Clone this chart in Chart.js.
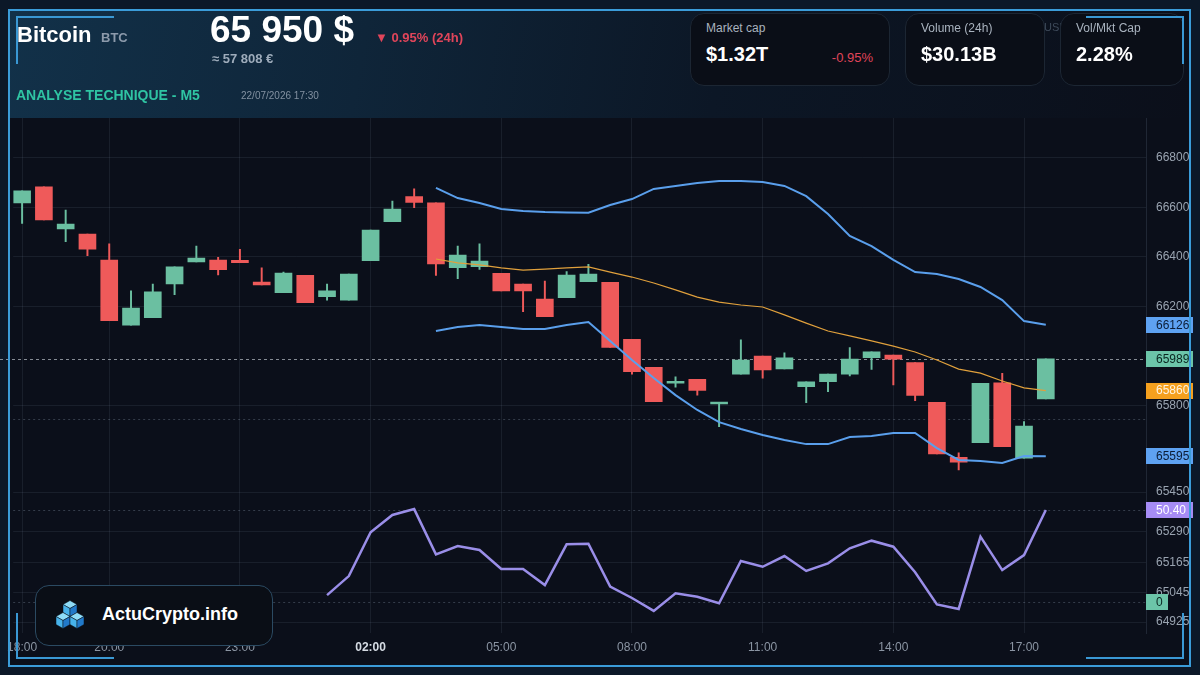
<!DOCTYPE html>
<html>
<head>
<meta charset="utf-8">
<script src="https://cdn.jsdelivr.net/npm/chart.js@4.4.1/dist/chart.umd.min.js"></script>
<style>
  body { margin: 0; background: #0c1727; font-family: "Liberation Sans", Arial, sans-serif; }
  #wrap { position: relative; width: 1200px; height: 675px; background: #0c1828; overflow: hidden; }
  #panel { position: absolute; left: 9px; top: 10px; width: 1181px; height: 656px; background: #0b0f1a; }
  #hdr { position: absolute; left: 9px; top: 10px; width: 1181px; height: 108px;
         background: linear-gradient(100deg, #123149 0%, #0f2539 30%, #0c1726 60%, #0b0f1a 100%); }
  canvas { position: absolute; left: 0; top: 0; }
  #frame { position: absolute; left: 8px; top: 9px; width: 1179px; height: 654px; border: 2px solid #3b9cd9; pointer-events: none; }
  .br { position: absolute; border: 0 solid #3a98d4; pointer-events: none; }
  .t { position: absolute; white-space: nowrap; line-height: 1; }
  .box { position: absolute; top: 13px; height: 73px; border: 1px solid #1c2633; border-radius: 14px;
         background: #0a0e17; box-sizing: border-box; }
  .lbl { position: absolute; left: 15px; top: 8px; font-size: 12px; color: #a9b3bf; line-height: 1; white-space: nowrap; }
  .val { position: absolute; left: 15px; top: 30px; font-size: 20px; font-weight: bold; color: #fff; line-height: 1; white-space: nowrap; }
  #logo { position: absolute; left: 35px; top: 585px; width: 238px; height: 61px; box-sizing: border-box;
          border: 1.5px solid #2b4a62; border-radius: 14px; background: #0a0e16; }
</style>
</head>
<body>
<div id="wrap">
  <div id="panel"></div>
  <div id="hdr"></div>
  <canvas id="c" width="1200" height="675"></canvas>

  <div class="t" style="left:17px;top:24px;font-size:22px;font-weight:bold;color:#fff">Bitcoin</div>
  <div class="t" style="left:101px;top:31px;font-size:13px;font-weight:bold;color:#8c9aab">BTC</div>
  <div class="t" style="left:210px;top:11px;font-size:37px;font-weight:bold;color:#fff">65 950 $</div>
  <div class="t" style="left:375px;top:31px;font-size:13px;font-weight:bold;color:#e0455a">▼ 0.95% (24h)</div>
  <div class="t" style="left:212px;top:52px;font-size:13px;font-weight:bold;color:#9eacbb">≈ 57 808 €</div>
  <div class="t" style="left:16px;top:88px;font-size:14px;font-weight:bold;color:#2fc4a3">ANALYSE TECHNIQUE - M5</div>
  <div class="t" style="left:241px;top:91px;font-size:10px;color:#8391a1">22/07/2026 17:30</div>

  <div class="box" style="left:690px;width:200px">
    <div class="lbl">Market cap</div>
    <div class="val">$1.32T</div>
    <div class="t" style="right:16px;top:37px;font-size:13px;color:#e0455a">-0.95%</div>
  </div>
  <div class="box" style="left:905px;width:140px">
    <div class="lbl">Volume (24h)</div>
    <div class="val">$30.13B</div>
  </div>
  <div class="t" style="left:1044px;top:22px;font-size:11px;color:#3e4a5a">USD</div>
  <div class="box" style="left:1060px;width:124px">
    <div class="lbl">Vol/Mkt Cap</div>
    <div class="val">2.28%</div>
  </div>

  <div id="logo">
    <svg style="position:absolute;left:16px;top:12px" width="36" height="33" viewBox="0 0 36 32">
      <g stroke="#0a0e16" stroke-width="0.5">
        <polygon points="18,2 25,6 18,10 11,6" fill="#8edcf7"/>
        <polygon points="11,6 18,10 18,18 11,14" fill="#47b2ea"/>
        <polygon points="18,10 25,6 25,14 18,18" fill="#2179c9"/>
        <polygon points="11,14 18,18 11,22 4,18" fill="#8edcf7"/>
        <polygon points="4,18 11,22 11,30 4,26" fill="#47b2ea"/>
        <polygon points="11,22 18,18 18,26 11,30" fill="#2179c9"/>
        <polygon points="25,14 32,18 25,22 18,18" fill="#8edcf7"/>
        <polygon points="18,18 25,22 25,30 18,26" fill="#47b2ea"/>
        <polygon points="25,22 32,18 32,26 25,30" fill="#2179c9"/>
      </g>
    </svg>
    <div class="t" style="left:66px;top:19px;font-size:18px;font-weight:bold;color:#fff">ActuCrypto.info</div>
  </div>

  <div id="frame"></div>
  <div class="br" style="left:16px;top:16px;width:96px;height:46px;border-top-width:2px;border-left-width:2px"></div>
  <div class="br" style="left:1086px;top:16px;width:96px;height:46px;border-top-width:2px;border-right-width:2px"></div>
  <div class="br" style="left:16px;top:613px;width:96px;height:44px;border-bottom-width:2px;border-left-width:2px"></div>
  <div class="br" style="left:1086px;top:613px;width:96px;height:44px;border-bottom-width:2px;border-right-width:2px"></div>
</div>

<script>
// 30-minute candles, 18:00 -> 17:30
var times = ["18:00","18:30","19:00","19:30","20:00","20:30","21:00","21:30","22:00","22:30",
  "23:00","23:30","00:00","00:30","01:00","01:30","02:00","02:30","03:00","03:30",
  "04:00","04:30","05:00","05:30","06:00","06:30","07:00","07:30","08:00","08:30",
  "09:00","09:30","10:00","10:30","11:00","11:30","12:00","12:30","13:00","13:30",
  "14:00","14:30","15:00","15:30","16:00","16:30","17:00","17:30"];
var tickIdx = [0, 4, 10, 16, 22, 28, 34, 40, 46];
var yTicks = [66800, 66600, 66400, 66200, 65800, 65450, 65290, 65165, 65045, 64925];

var opens  = [66618,66684,66513,66493,66388,66125,66155,66291,66380,66388,66387,66299,66256,66326,66240,66226,
              66385,66543,66644,66619,66357,66361,66334,66291,66230,66236,66300,66298,66067,65954,65890,65906,
              65806,65927,66000,65948,65876,65896,65927,65993,66004,65973,65813,65591,65650,65892,65587,65827];
var highs  = [66667,66684,66590,66493,66453,66263,66291,66360,66444,66399,66431,66356,66339,66326,66291,66331,
              66509,66626,66675,66619,66444,66453,66334,66291,66303,66341,66370,66298,66067,65954,65916,65906,
              65810,66065,66000,66013,65896,65927,66034,66017,66004,65973,65813,65609,65890,65930,65735,65989];
var lows   = [66536,66550,66462,66405,66143,66125,66155,66248,66380,66328,66377,66287,66256,66215,66226,66226,
              66385,66543,66599,66326,66312,66350,66263,66179,66159,66236,66300,66035,65927,65815,65874,65842,
              65714,65927,65910,65948,65811,65856,65920,65946,65883,65819,65604,65540,65650,65634,65587,65827];
var closes = [66667,66550,66533,66432,66143,66194,66259,66360,66396,66349,66377,66287,66335,66215,66263,66331,
              66509,66594,66621,66372,66408,66384,66263,66263,66159,66327,66331,66035,65937,65815,65895,65861,
              65810,65984,65944,65993,65896,65927,65988,66017,65987,65841,65604,65571,65890,65634,65717,65989];

// Bollinger bands (20) start at candle 19
var bbStart = 19;
var bbUpper = [66679,66638,66618,66594,66586,66582,66580,66579,66610,66634,66675,66687,66699,66707,66707,
               66703,66687,66646,66574,66485,66444,66388,66339,66331,66311,66279,66226,66141,66126];
var bbMid   = [66392,66376,66368,66356,66347,66351,66356,66360,66339,66319,66295,66267,66238,66218,66206,
               66198,66166,66133,66101,66081,66061,66040,66016,65984,65947,65931,65899,65871,65860];
var bbLower = [66101,66117,66125,66117,66109,66109,66125,66137,66061,65984,65911,65842,65782,65733,65705,
               65681,65661,65644,65644,65673,65677,65689,65689,65628,65580,65576,65568,65596,65595];

// oscillator (lower pane) starts at candle 14
var rsiStart = 14;
var rsi = [3.8,14.2,38.2,47.7,50.9,26.1,30.7,28.5,18.1,18.1,9.3,31.6,31.9,8.4,2.2,-4.9,4.8,
           2.9,-0.7,22.5,19.3,25.2,17.0,21.2,29.4,33.6,30.3,16.3,-1.3,-3.8,35.8,17.5,25.7,50.4];
var rsiLevels = [100, 0];

var GREEN = "#6bbfa1", RED = "#ef5a5a";
var last = closes.length - 1;

function pts(arr, start) {
  return arr.map(function (v, k) { return { x: start + k, y: v }; });
}
var candleCol = opens.map(function (o, i) { return closes[i] >= o ? GREEN : RED; });

var tags = [
  { axis: "y", value: bbUpper[bbUpper.length - 1], bg: "#5ea2f2", fg: "#0b1d36" },
  { axis: "y", value: closes[last], bg: "#6cc5a9", fg: "#0a2620" },
  { axis: "y", value: bbMid[bbMid.length - 1], bg: "#f5a01e", fg: "#fff4e2" },
  { axis: "y", value: bbLower[bbLower.length - 1], bg: "#5ea2f2", fg: "#0b1d36" },
  { axis: "osc", value: rsi[rsi.length - 1], bg: "#a68cf5", fg: "#ffffff", text: rsi[rsi.length - 1].toFixed(2) },
  { axis: "osc", value: 0, bg: "#6cc5a9", fg: "#0a2620", w: 22 }
];

var overlay = {
  id: "overlay",
  beforeDatasetsDraw: function (chart) {
    var ctx = chart.ctx, a = chart.chartArea;
    ctx.save();
    ctx.lineWidth = 1;
    ctx.setLineDash([2, 3]);
    ctx.strokeStyle = "rgba(150,165,185,0.3)";
    rsiLevels.concat([rsi[rsi.length - 1]]).forEach(function (v) {
      var y = Math.round(chart.scales.osc.getPixelForValue(v)) + 0.5;
      ctx.beginPath(); ctx.moveTo(a.left, y); ctx.lineTo(a.right, y); ctx.stroke();
    });
    ctx.setLineDash([3, 3]);
    ctx.strokeStyle = "rgba(215,222,230,0.6)";
    var yc = Math.round(chart.scales.y.getPixelForValue(closes[last])) + 0.5;
    ctx.beginPath(); ctx.moveTo(0, yc); ctx.lineTo(a.right, yc); ctx.stroke();
    ctx.restore();
  },
  afterDraw: function (chart) {
    var ctx = chart.ctx, a = chart.chartArea;
    ctx.save();
    ctx.font = "12px 'Liberation Sans', Arial, sans-serif";
    ctx.textBaseline = "middle";
    tags.forEach(function (t) {
      var y = chart.scales[t.axis].getPixelForValue(t.value);
      ctx.fillStyle = t.bg;
      ctx.fillRect(a.right, Math.round(y - 8), t.w || 47, 16);
      ctx.fillStyle = t.fg;
      ctx.fillText(t.text || String(t.value), a.right + 10, y + 0.5);
    });
    ctx.restore();
  }
};

new Chart("c", {
  type: "bar",
  data: {
    datasets: [
      { type: "line", data: pts(bbUpper, bbStart), borderColor: "#5a9fec", borderWidth: 2, pointRadius: 0, order: 0 },
      { type: "line", data: pts(bbLower, bbStart), borderColor: "#5a9fec", borderWidth: 2, pointRadius: 0, order: 0 },
      { type: "line", data: pts(bbMid, bbStart), borderColor: "#e0a03c", borderWidth: 1.2, pointRadius: 0, order: 0 },
      { type: "line", data: pts(rsi, rsiStart), yAxisID: "osc", borderColor: "#9a8ee8", borderWidth: 2.5,
        pointRadius: 0, order: 0 },
      { data: opens.map(function (o, i) { return { x: i, y: [o, closes[i]] }; }),
        backgroundColor: candleCol, barThickness: 17, minBarLength: 2, grouped: false, order: 1 },
      { data: lows.map(function (l, i) { return { x: i, y: [l, highs[i]] }; }),
        backgroundColor: candleCol, barThickness: 1.3, grouped: false, order: 2 }
    ]
  },
  options: {
    responsive: false,
    animation: false,
    layout: { padding: { top: 118, left: 12, right: 0, bottom: 20 } },
    plugins: { legend: { display: false }, tooltip: { enabled: false } },
    scales: {
      x: {
        type: "linear", min: -0.41, max: 51.6, offset: false,
        afterBuildTicks: function (s) { s.ticks = tickIdx.map(function (v) { return { value: v }; }); },
        afterFit: function (s) { s.height = 22; },
        grid: { color: "rgba(130,150,175,0.12)", drawTicks: false, offset: false },
        border: { display: false },
        ticks: {
          padding: 7, maxRotation: 0, autoSkip: false,
          color: function (c) { return c.tick && c.tick.value === 16 ? "#d5dbe3" : "#8b95a3"; },
          font: function (c) { return c.tick && c.tick.value === 16 ? { size: 12, weight: "bold" } : { size: 12 }; },
          callback: function (v) { return times[v]; }
        }
      },
      y: {
        position: "right", min: 64880.8, max: 66961.6,
        afterBuildTicks: function (s) { s.ticks = yTicks.map(function (v) { return { value: v }; }); },
        afterFit: function (s) { s.width = 54; },
        grid: { color: "rgba(130,150,175,0.12)", drawTicks: false },
        border: { display: true, color: "rgba(130,150,175,0.18)" },
        ticks: { padding: 10, color: "#9aa4b1", font: { size: 12 }, callback: function (v) { return String(v); } }
      },
      osc: { type: "linear", axis: "y", position: "right", display: false, min: -16.98, max: 265.15 }
    }
  },
  plugins: [overlay]
});
</script>
</body>
</html>
